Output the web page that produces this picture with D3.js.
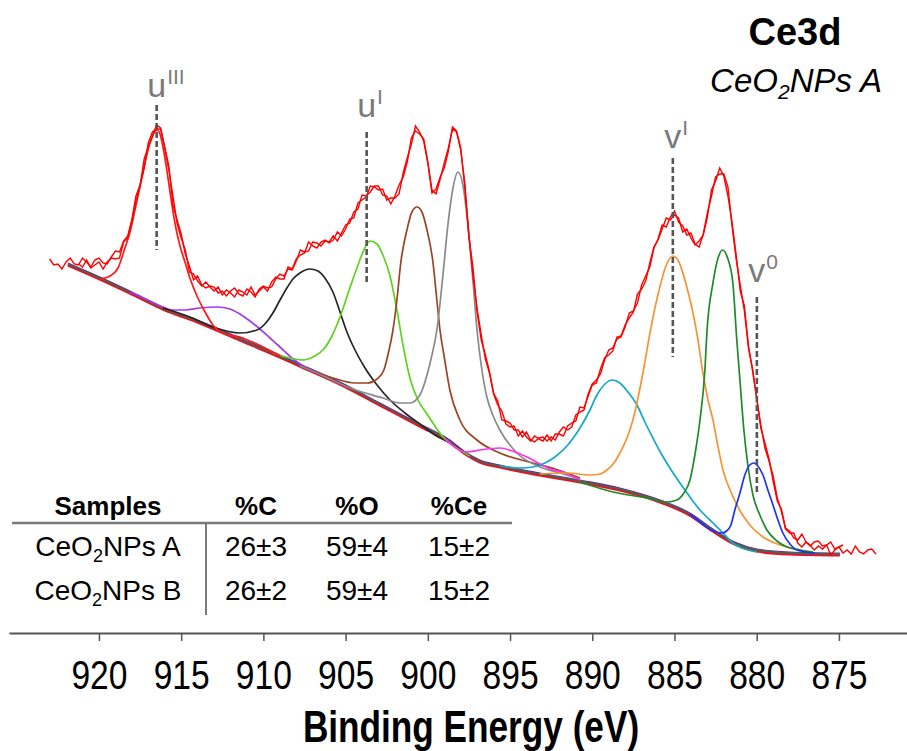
<!DOCTYPE html>
<html><head><meta charset="utf-8">
<script src="https://cdn.jsdelivr.net/npm/d3@7"></script>
<style>
body{margin:0;background:#fff;}
svg{display:block;}
text{font-family:"Liberation Sans",Arial,Helvetica,sans-serif;}
</style>
</head><body>
<svg id="chart" width="907" height="751"></svg>
<script>
// ---------- DATA ----------
// Binding energy grid of the measured spectra (eV)
const energy = [923,922.75,922.5,922.25,922,921.75,921.5,921.25,921,920.75,
920.5,920.25,920,919.75,919.5,919.25,919,918.75,918.5,918.25,
918,917.75,917.5,917.25,917,916.75,916.5,916.25,916,915.75,
915.5,915.25,915,914.75,914.5,914.25,914,913.75,913.5,913.25,
913,912.75,912.5,912.25,912,911.75,911.5,911.25,911,910.75,
910.5,910.25,910,909.75,909.5,909.25,909,908.75,908.5,908.25,
908,907.75,907.5,907.25,907,906.75,906.5,906.25,906,905.75,
905.5,905.25,905,904.75,904.5,904.25,904,903.75,903.5,903.25,
903,902.75,902.5,902.25,902,901.75,901.5,901.25,901,900.75,
900.5,900.25,900,899.75,899.5,899.25,899,898.75,898.5,898.25,
898,897.75,897.5,897.25,897,896.75,896.5,896.25,896,895.75,
895.5,895.25,895,894.75,894.5,894.25,894,893.75,893.5,893.25,
893,892.75,892.5,892.25,892,891.75,891.5,891.25,891,890.75,
890.5,890.25,890,889.75,889.5,889.25,889,888.75,888.5,888.25,
888,887.75,887.5,887.25,887,886.75,886.5,886.25,886,885.75,
885.5,885.25,885,884.75,884.5,884.25,884,883.75,883.5,883.25,
883,882.75,882.5,882.25,882,881.75,881.5,881.25,881,880.75,
880.5,880.25,880,879.75,879.5,879.25,879,878.75,878.5,878.25,
878,877.75,877.5,877.25,877,876.75,876.5,876.25,876,875.75,
875.5,875.25,875,874.75,874.5,874.25,874,873.75,873.5,873.25,
873,872.75];

// Raw spectrum (a.u.)
const scanA = [301,295,296,291,298,302,296,295,302,298,
293,300,302,297,296,303,309,308,319,324,
340,364,375,392,417,428,431,431,413,394,
355,340,326,306,294,280,284,275,272,274,
273,267,269,264,269,272,266,264,271,268,
263,271,274,272,273,281,286,284,291,290,
299,310,308,309,318,317,314,319,318,324,
319,327,335,337,348,351,365,364,368,374,
374,365,364,356,364,375,383,398,422,429,
426,421,398,370,366,381,397,412,431,428,
410,377,324,283,251,225,201,187,167,159,
140,139,137,130,130,123,128,120,118,122,
123,119,123,120,128,133,130,133,145,148,
150,166,176,180,186,200,210,212,221,223,
233,247,249,257,275,284,293,312,321,335,
333,343,349,338,334,325,327,316,313,326,
347,364,383,386,386,373,334,301,275,249,
212,191,162,135,112,99,84,62,49,31,
27,27,17,13,18,15,10,14,11,15,
5,10,13,7,10,6,14,8,6,10,
11,6];

// Second (overlaid) spectrum (a.u.)
const scanB = [null,null,null,null,null,null,null,296,293,300,
292,295,298,291,298,302,301,302,318,322,
339,359,374,401,413,423,435,432,412,390,
364,337,322,310,288,286,279,274,278,273,
269,273,265,270,267,263,270,268,265,273,
265,269,273,269,278,283,281,281,293,291,
301,305,307,318,314,312,318,320,317,320,
328,324,331,341,342,357,360,363,374,373,
370,371,360,362,362,366,387,402,416,434,
428,419,397,367,371,383,392,409,433,429,
412,372,323,292,247,220,205,188,166,155,
149,136,133,134,124,129,123,119,124,121,
119,125,119,126,126,124,134,137,139,153,
152,164,175,177,191,202,205,209,223,224,
235,242,248,266,271,279,297,313,320,331,
342,340,345,342,328,331,322,315,319,325,
343,370,379,392,384,364,338,305,269,254,
214,189,161,132,117,101,79,59,51,32,
29,22,20,26,18,14,18,19,14,15,
18,11,13,15,null,null,null,null,null,null,
null,null];

// Shirley background [eV, a.u.]
const background = [[921.89,296],[919.94,282],[918.11,268],[916.11,252],[913.86,238],[911.43,221],[908.99,204],[907.78,195],[905.34,177],[902.91,156],[900.48,135],[898.66,119],[897.62,106],[896.83,99],[895.62,94],[893.18,86],[890.75,79],[888.32,71],[885.70,58],[884.06,46],[882.66,30],[881.33,17],[879.99,10],[877.98,7],[874.94,6]];

// Fitted components [eV, a.u.]
const compU3 = [[919.94,281],[919.33,284],[918.84,292],[918.42,312],[918.11,328],[917.81,350],[917.51,373],[917.20,397],[916.90,417],[916.66,427],[916.47,430],[916.29,426],[916.05,408],[915.80,382],[915.56,355],[915.32,332],[915.07,314],[914.77,298],[914.47,282],[914.04,264],[913.55,248],[913.07,235],[912.34,226],[911.43,223],[910.39,216],[908.99,204]];
const compU2 = [[918.11,268],[916.90,259],[916.11,253],[915.56,250],[914.77,250],[913.86,252],[912.82,253],[912.03,251],[911.43,246],[910.82,239],[910.21,231],[909.60,222],[908.99,213],[908.26,202],[907.59,194],[906.56,186]];
const compU = [[916.11,252],[914.47,243],[913.07,233],[911.43,227],[910.39,230],[909.91,236],[909.42,247],[908.99,260],[908.57,272],[908.20,281],[907.78,287],[907.17,291],[906.68,289],[906.26,282],[905.77,268],[905.34,248],[904.92,228],[904.43,210],[903.82,192],[903.09,175],[902.30,160],[901.39,147],[900.48,136],[899.57,125],[898.66,117],[897.62,106]];
const compU1 = [[909.42,207],[908.39,202],[907.59,200],[906.87,204],[906.38,210],[905.83,224],[905.34,243],[904.74,272],[904.31,292],[903.89,310],[903.52,319],[903.09,316],[902.73,305],[902.30,284],[901.88,250],[901.51,215],[901.09,182],[900.60,160],[900.05,146],[899.08,123],[898.05,110],[897.44,104]];
const compU0 = [[907.78,194],[905.77,182],[904.43,177],[903.70,177],[903.09,181],[902.67,190],[902.36,210],[902.12,230],[901.88,260],[901.64,298],[901.27,330],[900.97,348],[900.66,353],[900.36,348],[900.05,330],[899.69,298],[899.45,260],[899.26,230],[899.02,205],[898.66,170],[898.05,140],[897.01,120],[895.62,107],[893.61,97],[892.27,91],[890.75,82]];
const compUu = [[907.78,194],[906.74,187],[904.74,172],[902.73,162],[901.70,157],[901.09,157],[900.48,165],[900.05,185],[899.75,205],[899.45,230],[899.08,285],[898.78,335],[898.47,372],[898.17,388],[897.87,375],[897.56,335],[897.26,280],[897.01,230],[896.71,190],[896.41,163],[896.05,145],[895.62,130],[894.58,107],[893.18,93],[891.97,87],[890.75,81]];
const compV3 = [[898.96,121],[897.62,108],[896.83,110],[895.62,112],[894.70,108],[893.97,103],[893.18,96],[892.57,91],[891.66,87],[890.75,80]];
const compV2 = [[895.62,94],[894.40,92],[893.61,93],[892.88,97],[892.27,103],[891.54,114],[890.75,132],[890.14,150],[889.72,165],[889.23,176],[888.80,180],[888.32,177],[887.83,168],[887.28,155],[886.80,138],[886.31,122],[885.76,105],[885.28,92],[884.67,77],[884.06,63],[883.45,50],[882.66,37],[882.05,27],[881.45,17],[880.72,11],[879.99,8]];
const compV1 = [[893.18,86],[891.54,87],[890.14,85],[889.53,86],[889.11,90],[888.68,97],[888.32,107],[887.89,122],[887.53,140],[887.22,162],[886.92,187],[886.49,227],[886.19,252],[885.89,273],[885.52,294],[885.10,304],[884.73,298],[884.25,273],[883.94,252],[883.64,227],[883.27,187],[882.96,160],[882.66,140],[882.35,113],[882.05,90],[881.62,70],[881.04,50],[880.42,35],[879.62,23],[878.89,17],[878.16,13],[877.37,10],[876.58,8]];
const compV = [[890.75,78],[888.74,68],[886.68,62],[885.46,58],[884.85,60],[884.43,67],[884.06,80],[883.76,105],[883.45,140],[883.15,190],[883.03,227],[882.66,277],[882.35,302],[882.08,310],[881.77,302],[881.45,277],[881.21,220],[881.02,180],[880.78,130],[880.54,95],[880.23,65],[879.81,45],[879.38,30],[878.77,19],[878.16,13],[877.37,10],[876.58,8]];
const compV0 = [[884.06,46],[883.15,34],[882.66,29],[882.11,27],[881.83,29],[881.57,35],[881.33,50],[881.02,67],[880.72,85],[880.42,95],[880.17,97],[879.93,94],[879.62,85],[879.32,70],[879.01,55],[878.71,40],[878.41,27],[877.98,16],[877.55,10],[876.46,7]];

// Peak annotations
const peakBase = ["u","u","v","v"];
const peakSup = ["III","I","I","0"];
const peakEnergy = [916.49, 903.72, 885.10, 879.99];
const peakDashTop = [455, 428, 402, 263];
const peakDashBottom = [310, 278, 203, 65];
const peakLabelY = [463, 443, 412, 278];

// Axis ticks
const tickValues = [920,915,910,905,900,895,890,885,880,875];

// Composition table
const tableHeader = ["Samples","%C","%O","%Ce"];
const sampleNames = [["CeO","2","NPs A"],["CeO","2","NPs B"]];
const pctC = ["26\u00B13","26\u00B12"];
const pctO = ["59\u00B14","59\u00B14"];
const pctCe = ["15\u00B12","15\u00B12"];

// ---------- DRAW ----------
const svg = d3.select("#chart");
const x = d3.scaleLinear().domain([925.47, 870.86]).range([9, 907]);
const y = d3.scaleLinear().domain([0, 450]).range([560, 110]);

const smooth = d3.line().x(d => x(d[0])).y(d => y(d[1])).curve(d3.curveMonotoneX);

// background (multi-coloured overlap)
const gBg = svg.append("g");
gBg.append("path").attr("d", smooth(background)).attr("fill","none").attr("stroke","#e8102a").attr("stroke-width",3.2).attr("transform","translate(0,1)");
gBg.append("path").attr("d", smooth(background)).attr("fill","none").attr("stroke","#2e7d32").attr("stroke-width",1.4);
gBg.append("path").attr("d", smooth(background)).attr("fill","none").attr("stroke","#6a2a9a").attr("stroke-width",1.1).attr("transform","translate(0,-1)");

const comps = [
  [compU2, "#a23bf0"],
  [compU, "#262626"],
  [compU1, "#5ed21e"],
  [compU0, "#9a4424"],
  [compUu, "#8a8a8a"],
  [compV3, "#ff33ee"],
  [compV2, "#10a9c8"],
  [compV1, "#f79432"],
  [compV, "#1f8a2c"],
  [compV0, "#2233ee"],
  [compU3, "#ff1a1a"]
];
svg.append("g").selectAll("path").data(comps).join("path")
  .attr("d", d => smooth(d[0]))
  .attr("fill","none").attr("stroke", d => d[1]).attr("stroke-width",1.7);

// spectra
const specLine = d3.line()
  .defined(d => d[1] != null)
  .x(d => x(d[0])).y(d => y(d[1]));
const specA = energy.map((e,i) => [e, scanA[i]]);
const specB = energy.map((e,i) => [e, scanB[i]]);
svg.append("path").attr("d", specLine(specB)).attr("fill","none").attr("stroke","#ff0000").attr("stroke-width",1.4);
svg.append("path").attr("d", specLine(specA)).attr("fill","none").attr("stroke","#ff0000").attr("stroke-width",1.4);

// dashed markers and labels
const gPk = svg.append("g");
peakEnergy.forEach((e,i) => {
  gPk.append("line")
    .attr("x1", x(e)).attr("x2", x(e))
    .attr("y1", y(peakDashTop[i])).attr("y2", y(peakDashBottom[i]))
    .attr("stroke","#555").attr("stroke-width",2.6).attr("stroke-dasharray","6,3");
  const base = gPk.append("text")
    .attr("x", x(e)).attr("y", y(peakLabelY[i]))
    .attr("text-anchor","middle").attr("font-size",34).attr("fill","#7a7a7a")
    .text(peakBase[i]);
  const w = base.node().getComputedTextLength();
  gPk.append("text")
    .attr("x", x(e) + w/2 + 1).attr("y", y(peakLabelY[i]) - 13)
    .attr("font-size",21).attr("fill","#7a7a7a")
    .text(peakSup[i]);
});

// axis
const xAxis = d3.axisBottom(x).tickValues(tickValues).tickSize(8).tickSizeOuter(0).tickPadding(19).tickFormat(d3.format("d"));
const gAx = svg.append("g").attr("transform","translate(0,633)").call(xAxis);
gAx.select(".domain").attr("stroke","#555").attr("stroke-width",2);
gAx.selectAll(".tick line").attr("stroke","#555").attr("stroke-width",1.5);
gAx.selectAll(".tick text").attr("font-size",41).attr("fill","#000")
  .attr("font-family","'Liberation Sans',Arial,sans-serif")
  .attr("transform","scale(0.82,1)");

svg.append("text").attr("transform","translate(471,742) scale(0.8,1)").attr("text-anchor","middle")
  .attr("font-size",44).attr("font-weight","bold").attr("fill","#000")
  .text("Binding Energy (eV)");

// title
svg.append("text").attr("x", 795).attr("y", 45).attr("text-anchor","middle")
  .attr("font-size",38).attr("font-weight","bold").attr("fill","#000").text("Ce3d");
const sub = svg.append("text").attr("x", 796).attr("y", 92).attr("text-anchor","middle")
  .attr("font-size",33).attr("font-style","italic").attr("fill","#000");
sub.append("tspan").text("CeO");
sub.append("tspan").attr("font-size",21).attr("dy",7).text("2");
sub.append("tspan").attr("dy",-7).text("NPs A");

// table
const gT = svg.append("g");
const colX = [108, 256, 357, 459];
tableHeader.forEach((h,i) => {
  gT.append("text").attr("x", colX[i]).attr("y", 515).attr("text-anchor","middle")
    .attr("font-size",26).attr("font-weight","bold").attr("fill","#000").text(h);
});
gT.append("line").attr("x1",12).attr("x2",512).attr("y1",523).attr("y2",523).attr("stroke","#7a7a7a").attr("stroke-width",2.5);
gT.append("line").attr("x1",206).attr("x2",206).attr("y1",523).attr("y2",615).attr("stroke","#7a7a7a").attr("stroke-width",2);
const rowY = [556, 600];
sampleNames.forEach((nm, r) => {
  const t = gT.append("text").attr("x", colX[0]).attr("y", rowY[r]).attr("text-anchor","middle")
    .attr("font-size",28).attr("fill","#000");
  t.append("tspan").text(nm[0]);
  t.append("tspan").attr("font-size",18).attr("dy",6).text(nm[1]);
  t.append("tspan").attr("dy",-6).text(nm[2]);
  [pctC[r], pctO[r], pctCe[r]].forEach((v,c) => {
    gT.append("text").attr("x", colX[c+1]).attr("y", rowY[r]).attr("text-anchor","middle")
      .attr("font-size",28).attr("fill","#000").text(v);
  });
});
</script>
</body></html>
